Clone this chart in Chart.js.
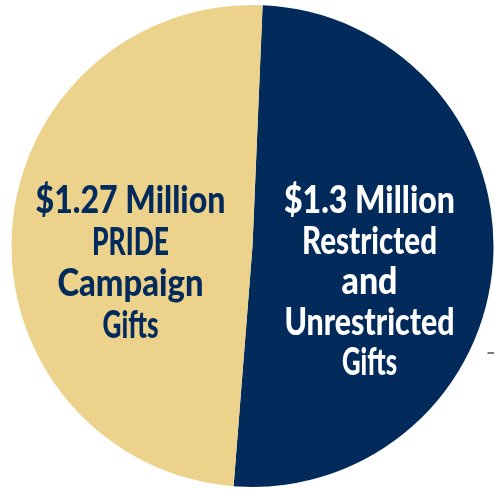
<!DOCTYPE html>
<html>
<head>
<meta charset="utf-8">
<script src="https://cdn.jsdelivr.net/npm/chart.js@4/dist/chart.umd.min.js"></script>
<style>
  html, body { margin: 0; padding: 0; background: #fff; overflow: hidden; }
  #wrap { position: relative; width: 505px; height: 489px; }
</style>
</head>
<body>
<div id="wrap"><canvas id="pie"></canvas></div>
<script>
// Data
const categories = ['Restricted and Unrestricted Gifts', 'PRIDE Campaign Gifts'];
const amounts = [1.3, 1.27]; // millions of dollars
const sliceColors = ['#022B5C', '#ECD28B'];
const textColors = ['#ffffff', '#022B5C'];
const labelLines = [
  ['$1.3 Million', 'Restricted', 'and', 'Unrestricted', 'Gifts'],
  ['$1.27 Million', 'PRIDE', 'Campaign', 'Gifts'],
];

// label layout (offsets from the pie centre, target line widths)
const labelX = [117, -122];
const labelTop = [-33, -33];
const labelStep = [40.5, 41.5];
const lineWidths = [
  [171, 135, 56, 170, 55],
  [190, 77, 146, 56],
];

const sliceLabels = {
  id: 'sliceLabels',
  afterDatasetsDraw(chart) {
    const ctx = chart.ctx;
    const arc = chart.getDatasetMeta(0).data[0];
    const cx = arc.x;
    const cy = arc.y;
    ctx.save();
    ctx.font = '900 37px Lato';
    ctx.textAlign = 'left';
    ctx.textBaseline = 'alphabetic';
    labelLines.forEach((lines, i) => {
      ctx.fillStyle = textColors[i];
      lines.forEach((line, j) => {
        const w = ctx.measureText(line).width;
        const target = lineWidths[i][j];
        ctx.save();
        ctx.translate(cx + labelX[i] - target / 2, cy + labelTop[i] + j * labelStep[i]);
        ctx.scale(target / w, 1);
        ctx.fillText(line, 0, 0);
        ctx.restore();
      });
    });
    // small leader tick at the right edge
    ctx.strokeStyle = '#4a4a4a';
    ctx.lineWidth = 1.5;
    ctx.beginPath();
    ctx.moveTo(cx + 235, cy + 107);
    ctx.lineTo(cx + 245, cy + 107);
    ctx.stroke();
    ctx.restore();
  },
};

const ctx = document.getElementById('pie').getContext('2d');
const chart = new Chart(ctx, {
  type: 'pie',
  data: {
    labels: categories,
    datasets: [
      {
        data: amounts,
        backgroundColor: sliceColors,
        borderWidth: 0,
      },
    ],
  },
  options: {
    responsive: true,
    maintainAspectRatio: false,
    animation: false,
    rotation: 2.4,
    layout: { padding: { top: 5, bottom: 2, left: 0, right: 0 } },
    plugins: {
      legend: { display: false },
      tooltip: { enabled: false },
    },
  },
  plugins: [sliceLabels],
});
</script>
</body>
</html>
